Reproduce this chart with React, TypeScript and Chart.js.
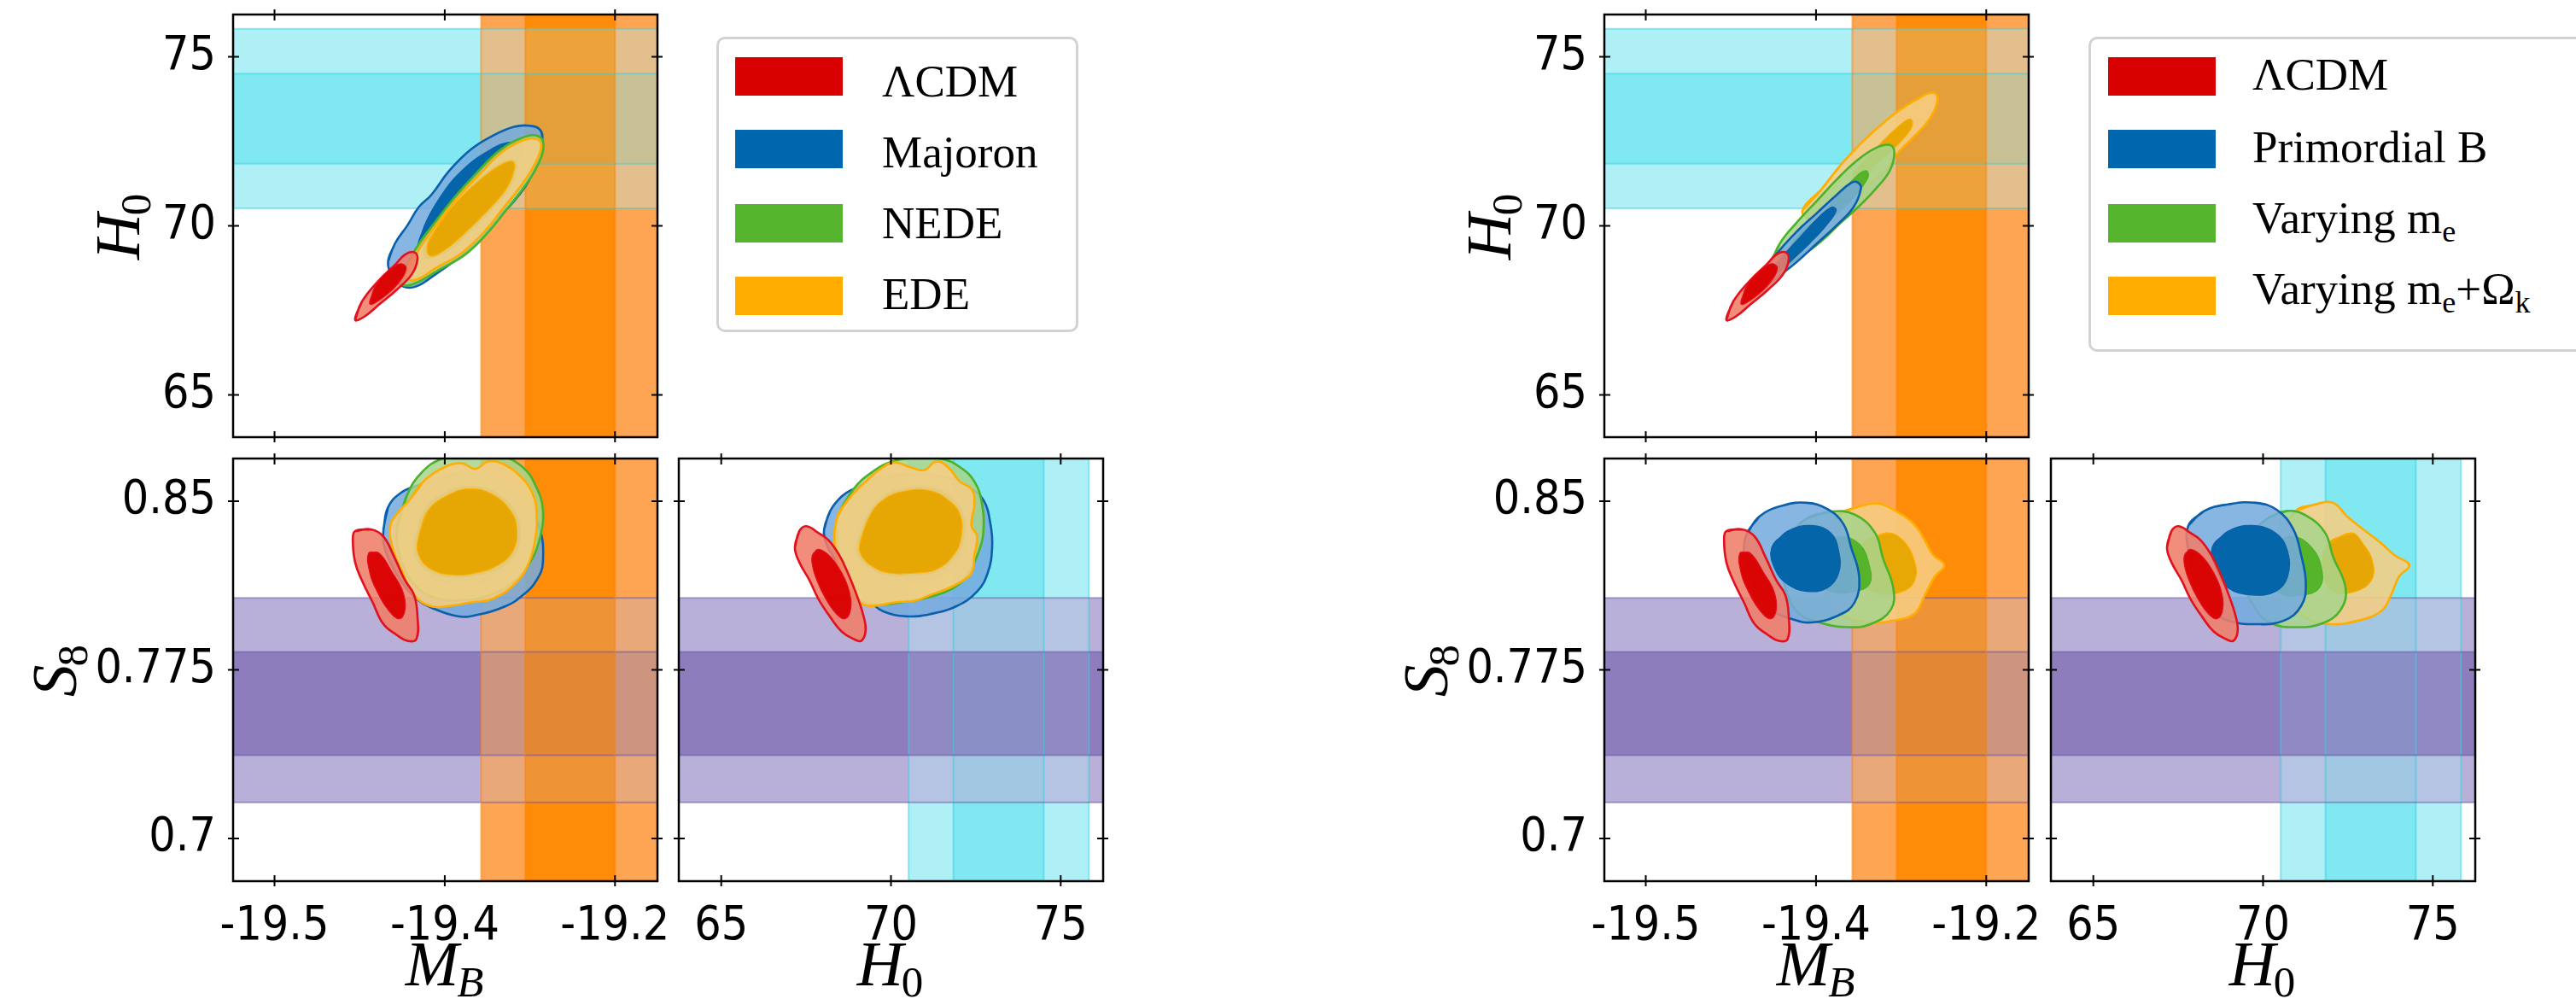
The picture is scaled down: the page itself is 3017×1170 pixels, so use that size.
import React, { useEffect, useRef } from "react";
import { Chart, registerables } from "chart.js";
Chart.register(...registerables);

type Pt = [number, number];

// ---------------- axes ----------------
const MB_RANGE: [number, number] = [-19.5365, -19.1626];
const H0_RANGE: [number, number] = [63.75, 76.25];
const S8_RANGE: [number, number] = [0.681, 0.869];
const MB_TICKS = [-19.5, -19.35, -19.2];
const MB_TICK_LABELS = ["-19.5", "-19.4", "-19.2"];
const H0_TICKS = [65, 70, 75];
const H0_TICK_LABELS = ["65", "70", "75"];
const S8_TICKS = [0.7, 0.775, 0.85];
const S8_TICK_LABELS = ["0.7", "0.775", "0.85"];

// ---------------- external constraints: [2σ low, 1σ low, 1σ high, 2σ high] ----------------
const H0_SH0ES = [70.52, 71.84, 74.5, 75.83];
const MB_SH0ES = [-19.318, -19.279, -19.2, -19.16];
const S8_WL = [0.716, 0.737, 0.783, 0.807];

// ---------------- legends ----------------
const LEGEND_LEFT = ["ΛCDM", "Majoron", "NEDE", "EDE"];
const LEGEND_RIGHT: { t: string; sub?: boolean }[][] = [
  [{ t: "ΛCDM" }],
  [{ t: "Primordial B" }],
  [{ t: "Varying m" }, { t: "e", sub: true }],
  [{ t: "Varying m" }, { t: "e", sub: true }, { t: "+Ω" }, { t: "k", sub: true }],
];

// ---------------- contours (95% and 68%) : shared ΛCDM ----------------
const LCDM_MB_H0_95: Pt[] = [[-19.429,67.22],[-19.423,67.76],[-19.408,68.39],[-19.394,68.84],[-19.385,69.15],[-19.377,69.22],[-19.374,69.02],[-19.379,68.57],[-19.392,68.12],[-19.408,67.67],[-19.421,67.31]];
const LCDM_MB_H0_68: Pt[] = [[-19.416,67.68],[-19.412,68.16],[-19.4,68.66],[-19.389,68.88],[-19.384,68.75],[-19.39,68.34],[-19.404,67.89]];
const LCDM_MB_S8_95: Pt[] = [[-19.429,0.8367],[-19.415,0.8375],[-19.404,0.8343],[-19.394,0.8246],[-19.385,0.8148],[-19.377,0.8083],[-19.374,0.7985],[-19.375,0.7887],[-19.383,0.7879],[-19.392,0.7904],[-19.404,0.7953],[-19.4135,0.805],[-19.423,0.8148],[-19.429,0.8229],[-19.431,0.8327]];
const LCDM_MB_S8_68: Pt[] = [[-19.417,0.827],[-19.408,0.827],[-19.396,0.8181],[-19.387,0.8099],[-19.385,0.8018],[-19.39,0.7977],[-19.4,0.8018],[-19.4096,0.8099],[-19.416,0.8181]];
const LCDM_H0_S8_95: Pt[] = [[67.17,0.8294],[67.3,0.8367],[67.51,0.8389],[67.86,0.8359],[68.16,0.8327],[68.47,0.8262],[68.73,0.8181],[68.99,0.8083],[69.2,0.7985],[69.25,0.792],[69.12,0.7879],[68.9,0.7887],[68.55,0.792],[68.21,0.7985],[67.86,0.8066],[67.6,0.8148],[67.3,0.8229]];
const LCDM_H0_S8_68: Pt[] = [[67.69,0.8262],[67.86,0.8286],[68.21,0.8254],[68.55,0.8181],[68.77,0.8099],[68.81,0.8018],[68.64,0.7977],[68.38,0.8001],[68.08,0.8066],[67.82,0.8148],[67.69,0.8213]];

// ---------------- left figure: Majoron, NEDE, EDE ----------------
const MAJ_MB_H0_95: Pt[] = [[-19.4,68.93],[-19.394,69.47],[-19.383,70.01],[-19.373,70.55],[-19.362,70.91],[-19.346,71.63],[-19.327,72.26],[-19.308,72.66],[-19.289,72.93],[-19.275,72.96],[-19.266,72.84],[-19.264,72.53],[-19.267,71.99],[-19.277,71.27],[-19.289,70.73],[-19.304,70.19],[-19.319,69.56],[-19.339,69.02],[-19.358,68.57],[-19.375,68.21],[-19.387,68.21],[-19.396,68.52]];
const MAJ_MB_H0_68: Pt[] = [[-19.374,69.3],[-19.368,70.0],[-19.355,70.8],[-19.336,71.6],[-19.31,72.25],[-19.29,72.48],[-19.282,72.3],[-19.288,71.6],[-19.304,70.9],[-19.326,70.1],[-19.35,69.4],[-19.367,69.0]];
const NEDE_MB_H0_95: Pt[] = [[-19.388,68.5],[-19.376,69.3],[-19.361,70.0],[-19.342,70.82],[-19.322,71.56],[-19.302,72.22],[-19.282,72.6],[-19.268,72.66],[-19.263,72.4],[-19.268,71.8],[-19.28,71.15],[-19.297,70.42],[-19.312,69.8],[-19.332,69.15],[-19.356,68.68],[-19.376,68.3],[-19.387,68.25]];
const NEDE_MB_H0_68: Pt[] = [[-19.368,69.4],[-19.356,70.05],[-19.341,70.7],[-19.321,71.36],[-19.301,71.85],[-19.289,71.95],[-19.287,71.65],[-19.294,71.07],[-19.31,70.43],[-19.329,69.8],[-19.348,69.25],[-19.366,69.05]];
const EDE_MB_H0_95: Pt[] = [[-19.385,68.57],[-19.373,69.29],[-19.358,70.01],[-19.339,70.82],[-19.319,71.54],[-19.3,72.17],[-19.281,72.53],[-19.269,72.57],[-19.265,72.35],[-19.271,71.81],[-19.283,71.18],[-19.3,70.46],[-19.315,69.83],[-19.335,69.2],[-19.358,68.75],[-19.377,68.39]];
const EDE_MB_H0_68: Pt[] = [[-19.365,69.47],[-19.354,70.1],[-19.339,70.73],[-19.319,71.36],[-19.3,71.81],[-19.29,71.9],[-19.289,71.63],[-19.296,71.09],[-19.312,70.46],[-19.331,69.83],[-19.35,69.29],[-19.363,69.11]];

const MAJ_MB_S8_95: Pt[] = [[-19.404,0.8375],[-19.4,0.8473],[-19.3885,0.8538],[-19.373,0.8571],[-19.35,0.861],[-19.325,0.8625],[-19.3,0.859],[-19.281,0.851],[-19.267,0.839],[-19.2635,0.8229],[-19.2692,0.8148],[-19.281,0.8083],[-19.296,0.8034],[-19.323,0.7993],[-19.3385,0.7988],[-19.3615,0.8026],[-19.375,0.8066],[-19.389,0.8148],[-19.4,0.825],[-19.4038,0.831]];
const MAJ_MB_S8_68: Pt[] = [[-19.378,0.834],[-19.368,0.848],[-19.346,0.855],[-19.325,0.857],[-19.305,0.853],[-19.289,0.845],[-19.283,0.835],[-19.287,0.824],[-19.302,0.816],[-19.323,0.813],[-19.345,0.813],[-19.366,0.817],[-19.377,0.826]];
const NEDE_MB_S8_95: Pt[] = [[-19.392,0.838],[-19.383,0.853],[-19.37,0.863],[-19.352,0.869],[-19.33,0.8705],[-19.3,0.87],[-19.281,0.865],[-19.27,0.857],[-19.2635,0.846],[-19.267,0.832],[-19.276,0.822],[-19.29,0.814],[-19.312,0.808],[-19.335,0.806],[-19.358,0.807],[-19.375,0.812],[-19.388,0.823]];
const NEDE_MB_S8_68: Pt[] = [[-19.375,0.8343],[-19.367,0.8465],[-19.347,0.854],[-19.327,0.8565],[-19.306,0.854],[-19.29,0.8465],[-19.284,0.8375],[-19.288,0.827],[-19.302,0.8203],[-19.323,0.8172],[-19.343,0.8162],[-19.363,0.8188],[-19.375,0.8255]];
const EDE_MB_S8_95: Pt[] = [[-19.381,0.8506],[-19.369,0.8587],[-19.35,0.8652],[-19.335,0.8669],[-19.323,0.8644],[-19.312,0.8677],[-19.3,0.8669],[-19.285,0.8619],[-19.273,0.8538],[-19.269,0.8441],[-19.271,0.831],[-19.277,0.8213],[-19.2885,0.8131],[-19.308,0.8066],[-19.327,0.805],[-19.346,0.8034],[-19.363,0.8034],[-19.377,0.8083],[-19.387,0.8181],[-19.396,0.8294],[-19.398,0.8392],[-19.39,0.8457]];
const EDE_MB_S8_68: Pt[] = [[-19.373,0.8343],[-19.365,0.8457],[-19.346,0.853],[-19.327,0.8555],[-19.308,0.853],[-19.292,0.8457],[-19.2865,0.8375],[-19.29,0.8278],[-19.304,0.8213],[-19.323,0.8181],[-19.342,0.8172],[-19.3615,0.8196],[-19.373,0.8262]];

const MAJ_H0_S8_95: Pt[] = [[68.03,0.8375],[68.21,0.8457],[68.55,0.8522],[68.9,0.8555],[69.6,0.86],[70.5,0.862],[71.5,0.861],[72.3,0.856],[72.72,0.8506],[72.93,0.8399],[72.98,0.8294],[72.85,0.8181],[72.54,0.8099],[71.94,0.8034],[71.16,0.7998],[70.46,0.7988],[69.77,0.801],[69.42,0.805],[68.9,0.813],[68.4,0.823],[68.1,0.831]];
const MAJ_H0_S8_68: Pt[] = [[68.9,0.832],[69.2,0.845],[69.8,0.853],[70.6,0.857],[71.4,0.856],[71.9,0.851],[72.2,0.843],[72.25,0.832],[72.0,0.823],[71.4,0.816],[70.6,0.814],[69.8,0.815],[69.2,0.82]];
const NEDE_H0_S8_95: Pt[] = [[68.47,0.8441],[68.9,0.8555],[69.42,0.8627],[70.03,0.8677],[70.72,0.8693],[71.5,0.8688],[72.03,0.8652],[72.46,0.8587],[72.68,0.849],[72.72,0.8359],[72.59,0.8278],[72.28,0.8181],[71.85,0.8115],[71.16,0.8075],[70.29,0.805],[69.42,0.8042],[68.9,0.8083],[68.55,0.8181],[68.42,0.831]];
const NEDE_H0_S8_68: Pt[] = [[69.0,0.831],[69.3,0.843],[69.75,0.8515],[70.46,0.8556],[71.2,0.8556],[71.75,0.8515],[72.1,0.8445],[72.15,0.834],[71.9,0.8255],[71.35,0.8188],[70.72,0.8172],[69.9,0.8172],[69.38,0.8205],[69.05,0.8258]];
const EDE_H0_S8_95: Pt[] = [[68.42,0.8432],[68.73,0.8506],[69.25,0.8587],[69.77,0.8652],[70.12,0.8673],[70.55,0.8652],[70.98,0.8639],[71.33,0.8677],[71.68,0.8652],[72.03,0.8587],[72.37,0.8555],[72.46,0.849],[72.37,0.8392],[72.54,0.8343],[72.46,0.8262],[72.37,0.8181],[71.94,0.8131],[71.59,0.8107],[71.16,0.8083],[70.72,0.8058],[70.12,0.805],[69.42,0.8034],[69.08,0.805],[68.73,0.8115],[68.47,0.8213],[68.34,0.831]];
const EDE_H0_S8_68: Pt[] = [[69.08,0.831],[69.34,0.8424],[69.77,0.8506],[70.46,0.8546],[71.16,0.8546],[71.68,0.8506],[72.03,0.8441],[72.07,0.8343],[71.85,0.8262],[71.33,0.8196],[70.72,0.8181],[69.94,0.8181],[69.42,0.8213],[69.12,0.8262]];

// ---------------- right figure: Primordial B, varying m_e, varying m_e + Ω_k ----------------
const PB_MB_H0_95: Pt[] = [[-19.397,68.57],[-19.384,69.2],[-19.367,69.83],[-19.3495,70.37],[-19.332,70.91],[-19.319,71.27],[-19.313,71.28],[-19.3105,71.09],[-19.317,70.55],[-19.332,70.01],[-19.3495,69.47],[-19.367,68.93],[-19.384,68.48],[-19.397,68.12],[-19.404,68.03]];
const PB_MB_H0_68: Pt[] = [[-19.39,68.55],[-19.384,68.93],[-19.367,69.56],[-19.3495,70.19],[-19.3365,70.55],[-19.3322,70.46],[-19.341,70.01],[-19.356,69.47],[-19.373,68.93],[-19.382,68.65]];
const ME_MB_H0_95: Pt[] = [[-19.392,68.7],[-19.382,69.47],[-19.367,70.1],[-19.3495,70.73],[-19.332,71.36],[-19.315,71.9],[-19.2975,72.3],[-19.285,72.39],[-19.281,72.17],[-19.285,71.63],[-19.2975,71.09],[-19.313,70.55],[-19.328,70.1],[-19.345,69.56],[-19.3625,69.11],[-19.3755,68.84],[-19.388,68.5]];
const ME_MB_H0_68: Pt[] = [[-19.372,69.4],[-19.3625,69.83],[-19.3495,70.19],[-19.332,70.82],[-19.315,71.45],[-19.306,71.63],[-19.304,71.45],[-19.313,71.0],[-19.328,70.46],[-19.345,70.01],[-19.36,69.55]];
const MEOK_MB_H0_95: Pt[] = [[-19.362,70.45],[-19.345,71.09],[-19.328,71.81],[-19.3105,72.44],[-19.293,72.98],[-19.276,73.43],[-19.2585,73.79],[-19.248,73.94],[-19.243,73.83],[-19.2455,73.43],[-19.254,72.98],[-19.267,72.53],[-19.28,72.08],[-19.289,71.63],[-19.302,71.27],[-19.319,70.82],[-19.3365,70.55],[-19.354,70.2]];
const MEOK_MB_H0_68: Pt[] = [[-19.318,71.5],[-19.3105,71.81],[-19.293,72.44],[-19.276,72.98],[-19.267,73.16],[-19.265,72.98],[-19.272,72.62],[-19.285,72.17],[-19.2975,71.81],[-19.308,71.45]];

const PB_MB_S8_95: Pt[] = [[-19.412,0.8343],[-19.4,0.8432],[-19.379,0.8481],[-19.358,0.8493],[-19.34,0.8465],[-19.326,0.84],[-19.319,0.8294],[-19.312,0.8164],[-19.316,0.805],[-19.33,0.7993],[-19.354,0.7961],[-19.372,0.7977],[-19.389,0.8018],[-19.403,0.8115],[-19.412,0.8229]];
const PB_MB_S8_68: Pt[] = [[-19.389,0.8294],[-19.375,0.8367],[-19.354,0.8392],[-19.337,0.8359],[-19.33,0.8278],[-19.33,0.8181],[-19.34,0.8115],[-19.358,0.8099],[-19.375,0.8131],[-19.386,0.8196]];
const ME_MB_S8_95: Pt[] = [[-19.358,0.8424],[-19.337,0.8454],[-19.316,0.8441],[-19.298,0.8359],[-19.291,0.8246],[-19.282,0.8115],[-19.284,0.8018],[-19.302,0.7953],[-19.323,0.794],[-19.347,0.7961],[-19.365,0.8001],[-19.375,0.8083],[-19.379,0.8213],[-19.372,0.8343]];
const ME_MB_S8_68: Pt[] = [[-19.351,0.8294],[-19.33,0.8343],[-19.312,0.831],[-19.303,0.8213],[-19.303,0.8131],[-19.316,0.8099],[-19.337,0.8099],[-19.351,0.8164]];
const MEOK_MB_S8_95: Pt[] = [[-19.33,0.8441],[-19.312,0.8476],[-19.295,0.849],[-19.279,0.8454],[-19.265,0.8405],[-19.256,0.8343],[-19.247,0.8262],[-19.237,0.8216],[-19.2455,0.8164],[-19.254,0.8083],[-19.263,0.8001],[-19.282,0.7969],[-19.302,0.7961],[-19.323,0.7985],[-19.337,0.805],[-19.344,0.8181],[-19.34,0.8343]];
const MEOK_MB_S8_68: Pt[] = [[-19.309,0.831],[-19.288,0.8359],[-19.2735,0.8327],[-19.263,0.8229],[-19.263,0.8148],[-19.2735,0.8099],[-19.295,0.8091],[-19.309,0.8148]];

const PB_H0_S8_95: Pt[] = [[67.8,0.8392],[68.27,0.8457],[68.97,0.8486],[69.79,0.8493],[70.42,0.846],[70.89,0.8375],[71.12,0.8262],[71.26,0.8131],[71.12,0.8034],[70.61,0.7969],[69.79,0.7953],[68.97,0.7969],[68.5,0.8018],[68.03,0.8148],[67.8,0.8278]];
const PB_H0_S8_68: Pt[] = [[68.5,0.8294],[68.97,0.8367],[69.67,0.8392],[70.37,0.8359],[70.72,0.8278],[70.72,0.8164],[70.37,0.8099],[69.67,0.8083],[68.97,0.8115],[68.62,0.8196]];
const ME_H0_S8_95: Pt[] = [[70.14,0.8424],[70.72,0.8457],[71.31,0.8432],[71.83,0.8359],[72.06,0.8254],[72.43,0.8115],[72.29,0.8018],[71.73,0.7956],[70.96,0.794],[70.26,0.7956],[69.79,0.8018],[69.44,0.8148],[69.44,0.831]];
const ME_H0_S8_68: Pt[] = [[70.14,0.8294],[70.84,0.8343],[71.43,0.8294],[71.73,0.8196],[71.66,0.8115],[71.19,0.8083],[70.49,0.8091],[70.14,0.8181]];
const MEOK_H0_S8_95: Pt[] = [[70.96,0.8457],[71.54,0.8486],[72.06,0.8493],[72.48,0.8432],[72.95,0.8375],[73.47,0.8314],[73.89,0.8258],[74.31,0.8216],[74.0,0.8164],[73.77,0.8083],[73.47,0.801],[72.72,0.7966],[71.97,0.7953],[71.31,0.7977],[70.84,0.805],[70.61,0.8181],[70.61,0.8343]];
const MEOK_H0_S8_68: Pt[] = [[71.9,0.831],[72.6,0.8359],[72.95,0.831],[73.23,0.8229],[73.19,0.8148],[72.72,0.8099],[72.06,0.8099],[71.78,0.8181]];

// ---------------- styles ----------------
const FONT_TICK = "'Liberation Sans Narrow', 'Arial Narrow', 'DejaVu Sans Condensed', sans-serif";
const FONT_SERIF = "'Liberation Serif', 'DejaVu Serif', serif";

const STYLE = {
  red: { o: "rgba(239,125,105,0.88)", i: "rgba(216,0,0,0.96)", line: "#e3101e", patch: "#d90000" },
  blue: { o: "rgba(116,170,222,0.86)", i: "rgba(0,98,168,0.96)", line: "#0a60aa", patch: "#0066ad" },
  green: { o: "rgba(168,212,140,0.86)", i: "rgba(82,178,38,0.96)", line: "#4cb22a", patch: "#55b52d" },
  orange: { o: "rgba(246,205,130,0.88)", i: "rgba(230,166,0,0.96)", line: "#ffad00", patch: "#ffad00" },
};

// band colours (as seen on white) and how strongly the upper band shows through on the lower one
type BandSet = { axis: "x" | "y"; vals: number[]; light: string; dark: string; edge: string };
const CYAN_L = "#aef0f5", CYAN_D = "#7fe8f0", CYAN_E = "rgba(40,205,225,0.45)";
const PURPLE_L = "#b8b0d8", PURPLE_D = "#8d7dbc", PURPLE_E = "rgba(95,75,160,0.45)";
const ORANGE_L = "#fea553", ORANGE_D = "#ff8c08", ORANGE_E = "rgba(255,128,0,0.5)";
// weights [upper light/dark][lower light/dark]
const W_ORANGE_ON_CYAN = [[0.65, 0.58], [0.78, 0.79]];
const W_ORANGE_ON_PURPLE = [[0.7, 0.57], [0.78, 0.75]];
const W_PURPLE_ON_CYAN = [[0.68, 0.6], [0.89, 0.83]];

// canvas margins around each panel
const ML = 250, MR = 70, MT = 30, MB_ = 170;
const PW = 497, PH = 495;

type Axis = { range: [number, number]; ticks: number[]; labels: string[] };
const AX_MB: Axis = { range: MB_RANGE, ticks: MB_TICKS, labels: MB_TICK_LABELS };
const AX_H0: Axis = { range: H0_RANGE, ticks: H0_TICKS, labels: H0_TICK_LABELS };
const AX_S8: Axis = { range: S8_RANGE, ticks: S8_TICKS, labels: S8_TICK_LABELS };

type Title = { main: string; sub: string; subItalic: boolean };
const T_H0: Title = { main: "H", sub: "0", subItalic: false };
const T_S8: Title = { main: "S", sub: "8", subItalic: false };
const T_MB: Title = { main: "M", sub: "B", subItalic: true };

type Layer = { pts: Pt[]; fill: string; line: string; width: number };

function pair(p95: Pt[], p68: Pt[], s: { o: string; i: string; line: string }): Layer[] {
  return [
    { pts: p95, fill: s.o, line: s.line, width: 2.6 },
    { pts: p68, fill: s.i, line: s.line, width: 1.2 },
  ];
}

const cyanY: BandSet = { axis: "y", vals: H0_SH0ES, light: CYAN_L, dark: CYAN_D, edge: CYAN_E };
const cyanX: BandSet = { axis: "x", vals: H0_SH0ES, light: CYAN_L, dark: CYAN_D, edge: CYAN_E };
const orangeX: BandSet = { axis: "x", vals: MB_SH0ES, light: ORANGE_L, dark: ORANGE_D, edge: ORANGE_E };
const purpleY: BandSet = { axis: "y", vals: S8_WL, light: PURPLE_L, dark: PURPLE_D, edge: PURPLE_E };

type PanelSpec = {
  left: number; top: number; x: Axis; y: Axis; showX: boolean; showY: boolean;
  xTitle?: Title; yTitle?: Title; yOff?: number;
  under: BandSet; over: BandSet; w: number[][]; layers: Layer[];
};

const PANELS: PanelSpec[] = [
  // left figure
  {
    left: 273, top: 17, x: AX_MB, y: AX_H0, showX: false, showY: true, yTitle: T_H0, yOff: -110,
    under: cyanY, over: orangeX, w: W_ORANGE_ON_CYAN,
    layers: [...pair(MAJ_MB_H0_95, MAJ_MB_H0_68, STYLE.blue), ...pair(NEDE_MB_H0_95, NEDE_MB_H0_68, STYLE.green), ...pair(EDE_MB_H0_95, EDE_MB_H0_68, STYLE.orange), ...pair(LCDM_MB_H0_95, LCDM_MB_H0_68, STYLE.red)],
  },
  {
    left: 273, top: 537, x: AX_MB, y: AX_S8, showX: true, showY: true, xTitle: T_MB, yTitle: T_S8, yOff: -184,
    under: purpleY, over: orangeX, w: W_ORANGE_ON_PURPLE,
    layers: [...pair(MAJ_MB_S8_95, MAJ_MB_S8_68, STYLE.blue), ...pair(NEDE_MB_S8_95, NEDE_MB_S8_68, STYLE.green), ...pair(EDE_MB_S8_95, EDE_MB_S8_68, STYLE.orange), ...pair(LCDM_MB_S8_95, LCDM_MB_S8_68, STYLE.red)],
  },
  {
    left: 795, top: 537, x: AX_H0, y: AX_S8, showX: true, showY: false, xTitle: T_H0,
    under: cyanX, over: purpleY, w: W_PURPLE_ON_CYAN,
    layers: [...pair(MAJ_H0_S8_95, MAJ_H0_S8_68, STYLE.blue), ...pair(NEDE_H0_S8_95, NEDE_H0_S8_68, STYLE.green), ...pair(EDE_H0_S8_95, EDE_H0_S8_68, STYLE.orange), ...pair(LCDM_H0_S8_95, LCDM_H0_S8_68, STYLE.red)],
  },
  // right figure
  {
    left: 1879, top: 17, x: AX_MB, y: AX_H0, showX: false, showY: true, yTitle: T_H0, yOff: -110,
    under: cyanY, over: orangeX, w: W_ORANGE_ON_CYAN,
    layers: [...pair(MEOK_MB_H0_95, MEOK_MB_H0_68, STYLE.orange), ...pair(ME_MB_H0_95, ME_MB_H0_68, STYLE.green), ...pair(PB_MB_H0_95, PB_MB_H0_68, STYLE.blue), ...pair(LCDM_MB_H0_95, LCDM_MB_H0_68, STYLE.red)],
  },
  {
    left: 1879, top: 537, x: AX_MB, y: AX_S8, showX: true, showY: true, xTitle: T_MB, yTitle: T_S8, yOff: -184,
    under: purpleY, over: orangeX, w: W_ORANGE_ON_PURPLE,
    layers: [...pair(MEOK_MB_S8_95, MEOK_MB_S8_68, STYLE.orange), ...pair(ME_MB_S8_95, ME_MB_S8_68, STYLE.green), ...pair(PB_MB_S8_95, PB_MB_S8_68, STYLE.blue), ...pair(LCDM_MB_S8_95, LCDM_MB_S8_68, STYLE.red)],
  },
  {
    left: 2402, top: 537, x: AX_H0, y: AX_S8, showX: true, showY: false, xTitle: T_H0,
    under: cyanX, over: purpleY, w: W_PURPLE_ON_CYAN,
    layers: [...pair(MEOK_H0_S8_95, MEOK_H0_S8_68, STYLE.orange), ...pair(ME_H0_S8_95, ME_H0_S8_68, STYLE.green), ...pair(PB_H0_S8_95, PB_H0_S8_68, STYLE.blue), ...pair(LCDM_H0_S8_95, LCDM_H0_S8_68, STYLE.red)],
  },
];

function drawLabel(ctx: CanvasRenderingContext2D, t: Title, x: number, y: number, rot: number) {
  ctx.save();
  ctx.translate(x, y);
  ctx.rotate(rot);
  ctx.fillStyle = "#000";
  ctx.textAlign = "left";
  ctx.textBaseline = "alphabetic";
  const mf = `italic 75px ${FONT_SERIF}`;
  const sf = `${t.subItalic ? "italic " : ""}51px ${FONT_SERIF}`;
  ctx.font = mf;
  const wm = ctx.measureText(t.main).width;
  ctx.font = sf;
  const ws = ctx.measureText(t.sub).width;
  const x0 = -(wm + ws) / 2;
  ctx.font = mf;
  ctx.fillText(t.main, x0, 0);
  ctx.font = sf;
  ctx.fillText(t.sub, x0 + wm - 2, 13);
  ctx.restore();
}

function makeConfig(spec: PanelSpec): any {
  const axisOpts = (ax: Axis, show: boolean, isX: boolean) => ({
    type: "linear",
    position: isX ? "bottom" : "left",
    min: ax.range[0],
    max: ax.range[1],
    grid: { display: false, drawTicks: false },
    border: { display: false },
    ticks: {
      display: show,
      autoSkip: false,
      maxRotation: 0,
      minRotation: 0,
      padding: isX ? 21 : 20,
      color: "#000",
      font: { family: FONT_TICK, size: 55 },
      callback: (_v: any, i: number) => ax.labels[i],
    },
    afterBuildTicks: (s: any) => {
      s.ticks = ax.ticks.map((v) => ({ value: v }));
    },
    afterFit: (s: any) => {
      if (isX) s.height = MB_;
      else s.width = ML;
      s.paddingLeft = 0; s.paddingRight = 0; s.paddingTop = 0; s.paddingBottom = 0;
    },
  });

  const datasets = spec.layers.map((l, i) => ({
    type: "line",
    data: [...l.pts, l.pts[0], l.pts[1]].map(([x, y]) => ({ x, y })),
    borderColor: l.line,
    borderWidth: l.width,
    backgroundColor: l.fill,
    fill: "shape",
    tension: 0.42,
    pointRadius: 0,
    pointHoverRadius: 0,
    order: spec.layers.length - i,
  }));

  const bandsPlugin = {
    id: "bands",
    beforeDatasetsDraw(chart: any) {
      const { ctx, chartArea: a, scales } = chart;
      const px = (b: BandSet) => b.vals.map((v) => scales[b.axis].getPixelForValue(v));
      const rect = (b: BandSet, p0: number, p1: number) => {
        const s = Math.min(p0, p1), e = Math.max(p0, p1);
        if (b.axis === "x") ctx.fillRect(s, a.top, e - s, a.bottom - a.top);
        else ctx.fillRect(a.left, s, a.right - a.left, e - s);
      };
      const cells = (p: number[]) => [[p[0], p[1], 0], [p[1], p[2], 1], [p[2], p[3], 0]];
      const { under, over, w } = spec;
      const po = px(over), pu = px(under);
      ctx.save();
      ctx.beginPath();
      ctx.rect(a.left, a.top, a.right - a.left, a.bottom - a.top);
      ctx.clip();
      // upper band, opaque
      ctx.fillStyle = over.light; rect(over, po[0], po[3]);
      ctx.fillStyle = over.dark; rect(over, po[1], po[2]);
      // lower band, opaque
      ctx.fillStyle = under.light; rect(under, pu[0], pu[3]);
      ctx.fillStyle = under.dark; rect(under, pu[1], pu[2]);
      // upper band blended on the crossing cells
      for (const [o0, o1, ol] of cells(po)) {
        for (const [u0, u1, ul] of cells(pu)) {
          ctx.globalAlpha = w[ol][ul];
          ctx.fillStyle = ol ? over.dark : over.light;
          const xr = over.axis === "x" ? [o0, o1] : [u0, u1];
          const yr = over.axis === "y" ? [o0, o1] : [u0, u1];
          ctx.fillRect(Math.min(xr[0], xr[1]), Math.min(yr[0], yr[1]), Math.abs(xr[1] - xr[0]), Math.abs(yr[1] - yr[0]));
        }
      }
      ctx.globalAlpha = 1;
      // edge lines
      ctx.lineWidth = 2;
      for (const [b, p] of [[under, pu], [over, po]] as [BandSet, number[]][]) {
        ctx.strokeStyle = b.edge;
        ctx.beginPath();
        for (const v of p) {
          if (b.axis === "x") { ctx.moveTo(v, a.top); ctx.lineTo(v, a.bottom); }
          else { ctx.moveTo(a.left, v); ctx.lineTo(a.right, v); }
        }
        ctx.stroke();
      }
      ctx.restore();
    },
  };

  const framePlugin = {
    id: "frame",
    afterDatasetsDraw(chart: any) {
      const { ctx, chartArea: a, scales } = chart;
      const xs = scales.x, ys = scales.y;
      ctx.save();
      ctx.strokeStyle = "#000";
      ctx.lineWidth = 2;
      ctx.beginPath();
      for (const t of xs.ticks) {
        const p = xs.getPixelForValue(t.value);
        ctx.moveTo(p, a.top - 6); ctx.lineTo(p, a.top + 7);
        ctx.moveTo(p, a.bottom - 7); ctx.lineTo(p, a.bottom + 6);
      }
      for (const t of ys.ticks) {
        const p = ys.getPixelForValue(t.value);
        ctx.moveTo(a.left - 6, p); ctx.lineTo(a.left + 7, p);
        ctx.moveTo(a.right - 7, p); ctx.lineTo(a.right + 6, p);
      }
      ctx.stroke();
      ctx.lineWidth = 2.5;
      ctx.strokeRect(a.left, a.top, a.right - a.left, a.bottom - a.top);
      ctx.restore();
    },
    afterDraw(chart: any) {
      const { ctx, chartArea: a } = chart;
      if (spec.xTitle) drawLabel(ctx, spec.xTitle, (a.left + a.right) / 2, a.bottom + 122, 0);
      if (spec.yTitle) drawLabel(ctx, spec.yTitle, a.left + (spec.yOff || -110), (a.top + a.bottom) / 2, -Math.PI / 2);
    },
  };

  return {
    type: "line",
    data: { datasets },
    options: {
      responsive: false,
      maintainAspectRatio: false,
      animation: false,
      events: [],
      layout: { padding: { left: 0, top: MT, right: MR, bottom: 0 } },
      plugins: { legend: { display: false }, tooltip: { enabled: false }, filler: { propagate: false } },
      scales: { x: axisOpts(spec.x, spec.showX, true), y: axisOpts(spec.y, spec.showY, false) },
    },
    plugins: [bandsPlugin, framePlugin],
  };
}

function Panel({ spec }: { spec: PanelSpec }) {
  const ref = useRef<HTMLCanvasElement>(null);
  const W = PW + ML + MR;
  const H = PH + MT + MB_;
  useEffect(() => {
    const chart = new Chart(ref.current as HTMLCanvasElement, makeConfig(spec));
    return () => chart.destroy();
  }, [spec]);
  return (
    <canvas
      ref={ref}
      width={W}
      height={H}
      style={{ position: "absolute", left: spec.left - ML, top: spec.top - MT, width: W, height: H }}
    />
  );
}

const PATCH_COLORS = [STYLE.red.patch, STYLE.blue.patch, STYLE.green.patch, STYLE.orange.patch];
const PATCH_TOPS = [67, 152, 239, 324];

function Legend(props: {
  left: number; top: number; width: number; height: number; patchLeft: number; textLeft: number;
  labels: { t: string; sub?: boolean }[][]; baselines: number[];
}) {
  const { left, top, width, height, patchLeft, textLeft, labels, baselines } = props;
  return (
    <>
      <div
        style={{
          position: "absolute", left, top, width, height, boxSizing: "border-box",
          border: "3px solid #d2d2d2", borderRadius: 10, background: "rgba(255,255,255,0.9)",
        }}
      />
      {labels.map((segs, i) => (
        <React.Fragment key={i}>
          <div style={{ position: "absolute", left: patchLeft, top: PATCH_TOPS[i], width: 126, height: 45, background: PATCH_COLORS[i] }} />
          <div
            style={{
              position: "absolute", left: textLeft, top: baselines[i] - 44.3, fontFamily: FONT_SERIF,
              fontSize: 53, lineHeight: "53px", whiteSpace: "nowrap", color: "#000",
            }}
          >
            {segs.map((s, j) =>
              s.sub ? (
                <span key={j} style={{ fontSize: "0.68em", position: "relative", top: "0.3em", lineHeight: 0 }}>{s.t}</span>
              ) : (
                <span key={j}>{s.t}</span>
              )
            )}
          </div>
        </React.Fragment>
      ))}
    </>
  );
}

export default function App() {
  return (
    <div style={{ position: "absolute", left: 0, top: 0, width: 3017, height: 1170, overflow: "hidden", background: "#fff" }}>
      {PANELS.map((p, i) => (
        <Panel key={i} spec={p} />
      ))}
      <Legend
        left={839} top={43} width={424} height={346} patchLeft={861} textLeft={1033}
        labels={LEGEND_LEFT.map((t) => [{ t }])} baselines={[113, 196, 279, 362]}
      />
      <Legend
        left={2446} top={43} width={600} height={369} patchLeft={2469} textLeft={2638}
        labels={LEGEND_RIGHT} baselines={[105, 190, 273, 356]}
      />
    </div>
  );
}
